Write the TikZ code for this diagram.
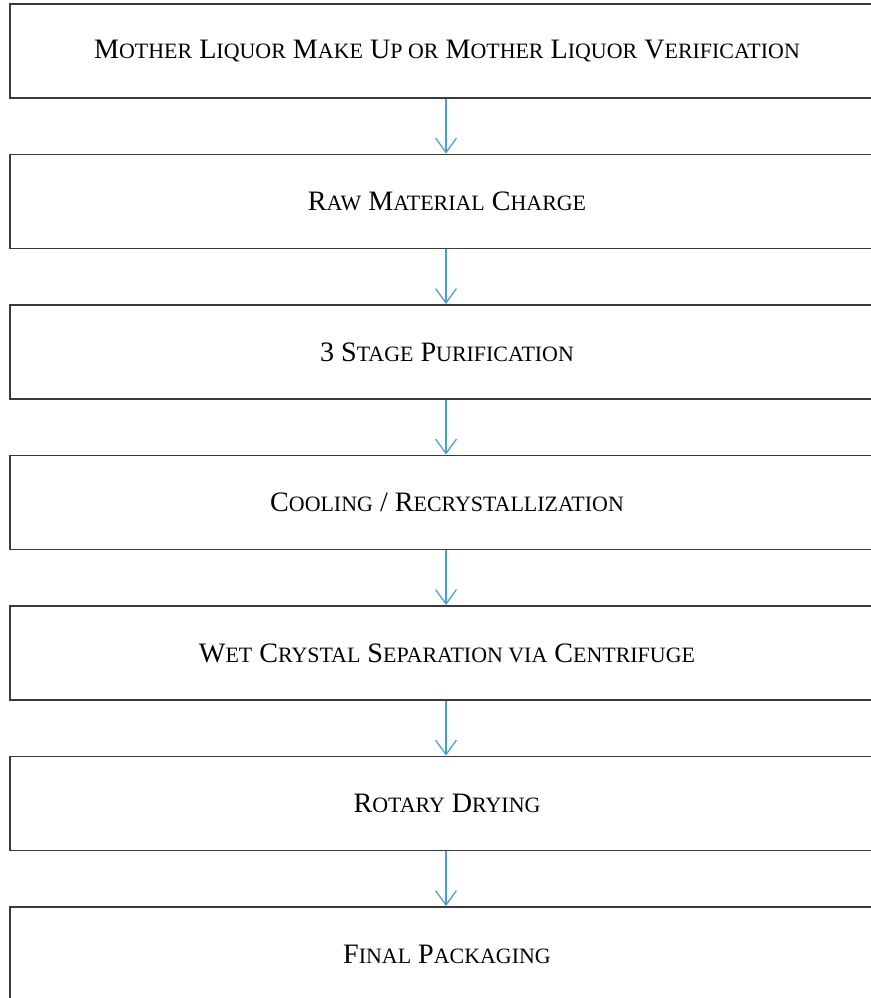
\documentclass[tikz,border=0pt]{standalone}
\usepackage{fontspec}
\setmainfont{Liberation Serif}
\usepackage{tikz}
\usetikzlibrary{arrows.meta,positioning}
\definecolor{flowblue}{HTML}{4A9FCF}
\definecolor{boxgray}{HTML}{3A3A3A}
% faked small caps, as the word processor sets them
\newcommand{\lc}[1]{{\fontsize{15.6}{18}\selectfont #1}}

\begin{document}
\begin{tikzpicture}[->,>={Straight Barb[length=3.6mm,width=5.2mm]},node distance=3.7625cm,
                    step node/.style={rectangle,draw=boxgray,line width=1.3pt,minimum width=21.85cm,
                                      minimum height=2.35cm,inner sep=0pt,font=\fontsize{20}{24}\selectfont}]

  \useasboundingbox (0,0) rectangle (21.75,-24.95);

  \node[step node] (1) at (11.175,-1.275) {M\lc{OTHER} L\lc{IQUOR} M\lc{AKE} U\lc{P OR} M\lc{OTHER} L\lc{IQUOR} V\lc{ERIFICATION}};
  \node[step node] (2) [below of=1] {R\lc{AW} M\lc{ATERIAL} C\lc{HARGE}};
  \node[step node] (3) [below of=2] {3 S\lc{TAGE} P\lc{URIFICATION}};
  \node[step node] (4) [below of=3] {C\lc{OOLING} / R\lc{ECRYSTALLIZATION}};
  \node[step node] (5) [below of=4] {W\lc{ET} C\lc{RYSTAL} S\lc{EPARATION VIA} C\lc{ENTRIFUGE}};
  \node[step node] (6) [below of=5] {R\lc{OTARY} D\lc{RYING}};
  \node[step node] (7) [below of=6] {F\lc{INAL} P\lc{ACKAGING}};

  \foreach \a/\b in {1/2,2/3,3/4,4/5,5/6,6/7}
    \draw[flowblue,line width=0.9pt] ([xshift=-0.025cm]\a.south) -- ([xshift=-0.025cm]\b.north);

\end{tikzpicture}
\end{document}
